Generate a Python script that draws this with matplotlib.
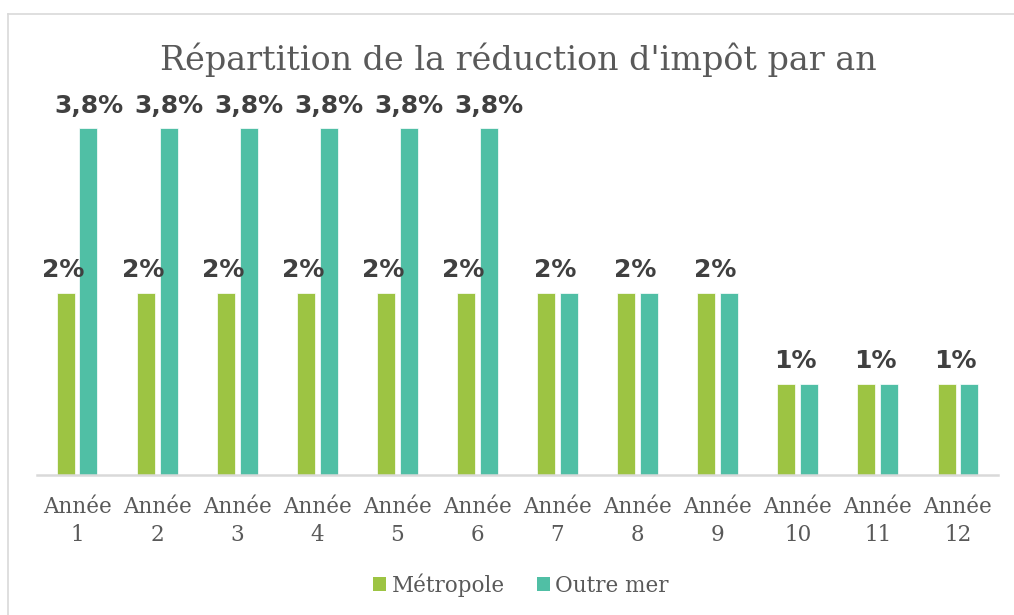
import numpy as np
import matplotlib
matplotlib.use("Agg")
import matplotlib.pyplot as plt
from matplotlib.lines import Line2D
from matplotlib.patches import Patch

# data
annees = ["Année\n%d" % i for i in range(1, 13)]
metropole = [2, 2, 2, 2, 2, 2, 2, 2, 2, 1, 1, 1]
outre_mer = [3.8, 3.8, 3.8, 3.8, 3.8, 3.8, 2, 2, 2, 1, 1, 1]
lbl_metro = ["2%"] * 9 + ["1%"] * 3
lbl_outre = ["3,8%"] * 6 + [""] * 6

green = "#9DC443"
teal = "#50BFA5"
grey = "#595959"
serif = "DejaVu Serif"

fig = plt.figure(figsize=(10.14, 6.15), dpi=100)
ax = fig.add_axes([37 / 1014, (615 - 475) / 615, 961 / 1014, 365 / 615])

x = np.arange(len(annees))
w = 0.225
off = 0.1425
ax.bar(x - off, metropole, w, color=green, edgecolor="white", linewidth=0.5)
ax.bar(x + off, outre_mer, w, color=teal, edgecolor="white", linewidth=0.5)

# data labels
for i in range(len(annees)):
    if lbl_outre[i]:
        ax.annotate(lbl_metro[i], (x[i] - off, metropole[i]), xytext=(-2, 11),
                    textcoords="offset points", ha="center", va="baseline",
                    fontsize=18, fontweight="bold", color="#404040")
        ax.annotate(lbl_outre[i], (x[i] + off, outre_mer[i]), xytext=(0, 11),
                    textcoords="offset points", ha="center", va="baseline",
                    fontsize=18, fontweight="bold", color="#404040")
    else:
        ax.annotate(lbl_metro[i], (x[i], metropole[i]), xytext=(-2, 11),
                    textcoords="offset points", ha="center", va="baseline",
                    fontsize=18, fontweight="bold", color="#404040")

ax.set_xlim(-0.5, len(annees) - 0.5)
ax.set_ylim(0, 4.0)
ax.set_yticks([])
ax.set_xticks(x)
ax.set_xticklabels(annees, fontfamily=serif, fontsize=15.5, color=grey, linespacing=1.35)
ax.tick_params(axis="x", length=0, pad=15)
for s in ["top", "right", "left"]:
    ax.spines[s].set_visible(False)
ax.spines["bottom"].set_color("#D9D9D9")
ax.spines["bottom"].set_linewidth(1.8)

fig.text(518 / 1014, 1 - 60 / 615, "Répartition de la réduction d'impôt par an",
         ha="center", va="center", fontfamily=serif, fontsize=24, color=grey)

handles = [Patch(facecolor=green), Patch(facecolor=teal)]
fig.legend(handles, ["Métropole", "Outre mer"], loc="center",
           bbox_to_anchor=(521 / 1014, 1 - 585 / 615), ncol=2, frameon=False,
           prop={"family": serif, "size": 15.5}, labelcolor=grey,
           handlelength=0.6, handleheight=0.6, handletextpad=0.25, columnspacing=1.5)

# chart border
fig.add_artist(Line2D([8 / 1014, 1], [1 - 14 / 615] * 2, transform=fig.transFigure,
                      color="#D9D9D9", linewidth=1.2))
fig.add_artist(Line2D([8 / 1014] * 2, [0, 1 - 14 / 615], transform=fig.transFigure,
                      color="#D9D9D9", linewidth=1.2))

fig.savefig("out.png", dpi=100)
